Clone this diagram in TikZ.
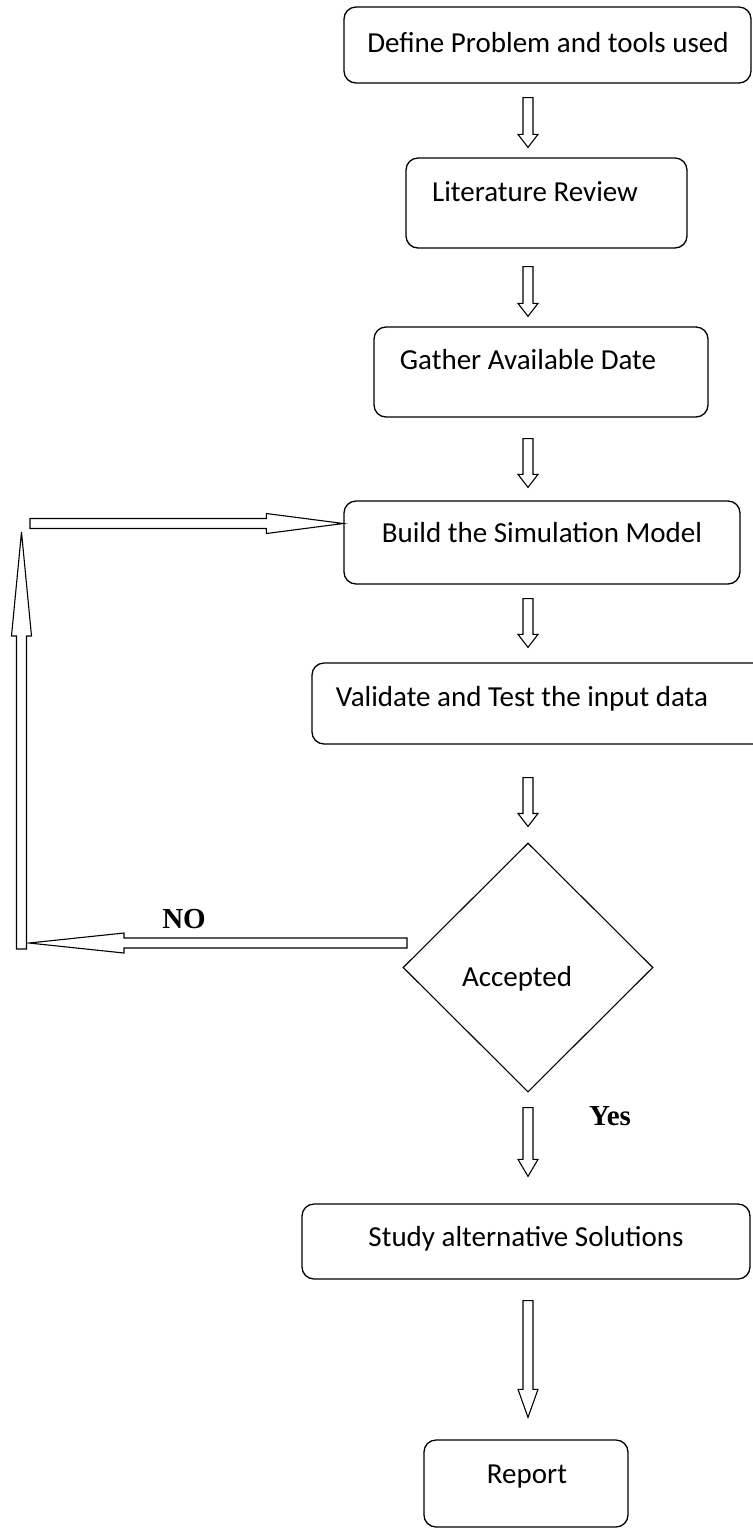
\documentclass[tikz,border=0pt]{standalone}
\usepackage{fontspec}
\setmainfont{Carlito}
\newfontfamily\answerfont{Liberation Serif}
\usetikzlibrary{shapes.geometric,calc}
\tikzset{
  stepbox/.style={draw=black, line width=0.65pt, rounded corners=6pt},
  steptext/.style={anchor=base, inner sep=0pt, font=\fontsize{14.5}{17}\selectfont},
  answer/.style={anchor=base, inner sep=0pt, font=\fontsize{14.5}{17}\selectfont\answerfont\bfseries},
  blockarrow/.style={draw=black, line width=0.55pt, fill=white, line join=miter,
    to path={($(\tikztotarget)!#1!(\tikztostart)$) coordinate (ab)
      ($(\tikztostart)!2.5pt!90:(\tikztotarget)$) -- ($(ab)!2.5pt!90:(\tikztotarget)$)
      -- ($(ab)!5pt!90:(\tikztotarget)$) -- (\tikztotarget)
      -- ($(ab)!5pt!-90:(\tikztotarget)$) -- ($(ab)!2.5pt!-90:(\tikztotarget)$)
      -- ($(\tikztostart)!2.5pt!-90:(\tikztotarget)$) -- cycle}},
}
\begin{document}
\begin{tikzpicture}[x=0.5pt, y=-0.5pt]
\useasboundingbox (0,0) rectangle (752,1528);
\coordinate (axis) at (528,0);
% steps
\node[stepbox, minimum width=203.5pt, minimum height=38pt] (define) at (547.5,45) {};
\node[stepbox, minimum width=140.5pt, minimum height=45pt] (review) at (546.5,203) {};
\node[stepbox, minimum width=167pt, minimum height=45pt] (gather) at (541,372) {};
\node[stepbox, minimum width=198pt, minimum height=41.5pt] (build) at (542,542.5) {};
\node[stepbox, minimum width=231.5pt, minimum height=40.5pt] (validate) at (543.5,703.5) {};
\node[shape=diamond, draw=black, line width=0.55pt, inner sep=0pt, minimum width=125pt, minimum height=124.5pt] (accept) at (528,967.5) {};
\node[stepbox, minimum width=224pt, minimum height=37.5pt] (study) at (526,1241.5) {};
\node[stepbox, minimum width=102pt, minimum height=43.5pt] (report) at (526,1483.5) {};
% texts
\node[steptext] (define text) at (548,52) {Define Problem and tools used};
\node[steptext] (review text) at (535,201) {Literature Review};
\node[steptext] (gather text) at (528,369) {Gather Available Date};
\node[steptext] (build text) at (542,542) {Build the Simulation Model};
\node[steptext] (validate text) at (522,706) {Validate and Test the input data};
\node[steptext] (accept text) at (517,986) {Accepted};
\node[steptext] (study text) at (526,1246) {Study alternative Solutions};
\node[steptext] (report text) at (527,1483) {Report};
\node[answer] (no) at (184,928) {NO};
\node[answer] (yes) at (610,1125) {Yes};
% main flow
\draw[blockarrow=6.5pt] ([yshift=-7pt]axis |- define.south) to ([yshift=5pt]axis |- review.north);
\draw[blockarrow=6.5pt] ([yshift=-9pt]axis |- review.south) to ([yshift=5pt]axis |- gather.north);
\draw[blockarrow=6.5pt] ([yshift=-10.5pt]axis |- gather.south) to ([yshift=6.5pt]axis |- build.north);
\draw[blockarrow=6.5pt] ([yshift=-7pt]axis |- build.south) to ([yshift=7.5pt]axis |- validate.north);
\draw[blockarrow=6.5pt] ([yshift=-16.5pt]axis |- validate.south) to ([yshift=8pt]axis |- accept.north);
\draw[blockarrow=8.5pt] ([yshift=-7.5pt]axis |- accept.south) to ([yshift=13.5pt]axis |- study.north);
\draw[blockarrow=14pt] ([yshift=-10.5pt]axis |- study.south) to ([yshift=11pt]axis |- report.north);
% loop back
\coordinate (nostart) at (407,943);
\coordinate (noend) at (29,943);
\coordinate (upstart) at (21.5,949);
\coordinate (upend) at (21.5,532);
\coordinate (backstart) at (30,523.5);
\draw[blockarrow=47.5pt] (nostart) to (noend);
\draw[blockarrow=52pt] (upstart) to (upend);
\draw[blockarrow=38.5pt] (backstart) to (backstart -| build.west);
\end{tikzpicture}
\end{document}
